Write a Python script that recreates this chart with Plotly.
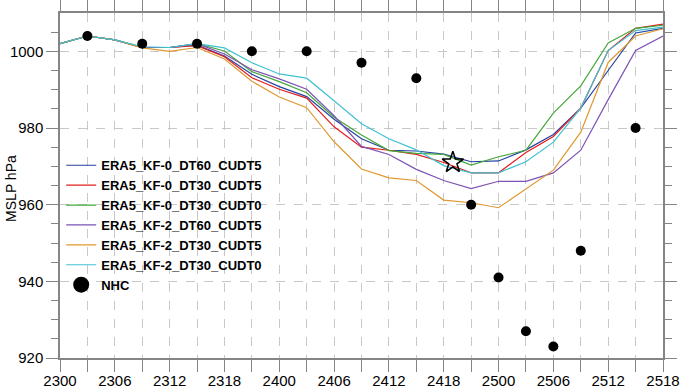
import plotly.graph_objects as go

hours = list(range(0, 67, 3))
tick_labels = ['2300', '2306', '2312', '2318', '2400', '2406', '2412', '2418',
               '2500', '2506', '2512', '2518']

kf0_dt60_cudt5 = [1002, 1004, 1003, 1001, 1001, 1001.6, 998.8, 994, 990.8, 988.2, 982.3, 977.2,
                  974.2, 974, 973.2, 971.2, 971.4, 974.3, 978.3, 985.2, 995, 1004.8, 1006]
kf0_dt30_cudt5 = [1002, 1004, 1003, 1001, 1001, 1001.5, 998.6, 993.1, 990.1, 987.8, 980.3, 975,
                  974.2, 973.1, 971, 968.3, 968.3, 973.6, 977.8, 985.2, 1000.2, 1006, 1007.1]
kf0_dt30_cudt0 = [1002, 1004, 1003, 1001, 1001, 1002, 1000.1, 994.7, 992.1, 989.2, 982.8, 978.2,
                  974.1, 973.4, 973.1, 970.3, 972.5, 974.2, 983.9, 991, 1002.2, 1006, 1006.8]
kf2_dt60_cudt5 = [1002, 1004, 1003, 1001, 1001, 1002, 999.3, 995.2, 992.8, 990.1, 983.2, 975.2,
                  973.1, 969.2, 966.3, 964.2, 966.1, 966.1, 968.3, 974.2, 987.4, 1000.2, 1004]
kf2_dt30_cudt5 = [1002, 1004, 1003, 1000.9, 1000, 1001, 998, 992.2, 988.1, 985.3, 976.4, 969.3,
                  967, 966.3, 961.2, 960.5, 959.2, 964, 969, 978.9, 997.1, 1004, 1005.9]
kf2_dt30_cudt0 = [1002, 1004, 1003, 1001.2, 1001, 1002, 1000.9, 997, 994.1, 993, 987.1, 981.1,
                  977.2, 974.3, 970.2, 968.3, 968.3, 971.2, 976.3, 985.2, 1000.2, 1005.4, 1006.3]

nhc_hours = [3, 9, 15, 21, 27, 33, 39, 45, 48, 51, 54, 57, 63]
nhc_mslp = [1004, 1002, 1002, 1000, 1000, 997, 993, 960, 941, 927, 923, 948, 980]

star_hour = [43]
star_mslp = [971]

series = [
    ('ERA5_KF-0_DT60_CUDT5', kf0_dt60_cudt5, '#2443a3'),
    ('ERA5_KF-0_DT30_CUDT5', kf0_dt30_cudt5, '#e41e1e'),
    ('ERA5_KF-0_DT30_CUDT0', kf0_dt30_cudt0, '#45a83a'),
    ('ERA5_KF-2_DT60_CUDT5', kf2_dt60_cudt5, '#7d52b4'),
    ('ERA5_KF-2_DT30_CUDT5', kf2_dt30_cudt5, '#e0982e'),
    ('ERA5_KF-2_DT30_CUDT0', kf2_dt30_cudt0, '#3ec2d2'),
]

fig = go.Figure()
for name, vals, col in series:
    fig.add_trace(go.Scatter(x=hours, y=vals, mode='lines', name=name,
                             line=dict(color=col, width=1.2)))

fig.add_trace(go.Scatter(x=nhc_hours, y=nhc_mslp, mode='markers', name='NHC',
                         showlegend=False, legendgroup='nhc',
                         marker=dict(color='black', size=10)))
fig.add_trace(go.Scatter(x=[None], y=[None], mode='markers', name='NHC',
                         legendgroup='nhc',
                         marker=dict(color='black', size=16)))
fig.add_trace(go.Scatter(x=star_hour, y=star_mslp, mode='markers', showlegend=False,
                         marker=dict(symbol='star-open', size=16, color='black',
                                     line=dict(width=1.5, color='black'))))

tickvals = hours
ticktext = [tick_labels[i // 2] if i % 2 == 0 else '' for i in range(len(hours))]

axis_col = '#858585'
fig.update_layout(
    width=682, height=391,
    margin=dict(l=60, r=19, t=13, b=33, autoexpand=False),
    paper_bgcolor='white', plot_bgcolor='white',
    font=dict(family='Liberation Sans, Arial, sans-serif', size=15, color='black'),
    showlegend=True,
    legend=dict(x=0.002, y=0.602, xanchor='left', yanchor='top',
                bgcolor='rgba(0,0,0,0)', borderwidth=0,
                font=dict(family='Liberation Sans, Arial, sans-serif', size=13,
                          color='black', weight='bold'),
                tracegroupgap=0),
    annotations=[dict(text='MSLP hPa', textangle=-90, xref='paper', yref='paper',
                      x=-0.0813, y=0.493, xanchor='center', yanchor='middle',
                      showarrow=False, font=dict(size=14, color='black'))],
)
fig.update_xaxes(range=[0, 66], tickmode='array', tickvals=tickvals, ticktext=ticktext,
                 ticks='outside', ticklen=12, tickcolor=axis_col, tickwidth=1,
                 ticklabelstandoff=-4,
                 showline=True, linecolor=axis_col, linewidth=1.5, mirror='ticks',
                 showgrid=True, gridcolor='#c8c8c8', griddash='dash', gridwidth=1,
                 zeroline=False, tickfont=dict(size=15), automargin=False)
fig.update_yaxes(range=[920, 1010], tickmode='array', tickvals=[920, 940, 960, 980, 1000],
                 ticks='outside', ticklen=12, tickcolor=axis_col, tickwidth=1,
                 minor=dict(tickmode='array', tickvals=[925, 930, 935, 945, 950, 955, 965, 970,
                                                        975, 985, 990, 995, 1005],
                            ticks='outside', ticklen=7, tickcolor=axis_col, showgrid=False),
                 showline=True, linecolor=axis_col, linewidth=1.5, mirror='ticks',
                 showgrid=True, gridcolor='#c8c8c8', griddash='dash', gridwidth=1,
                 zeroline=False, tickfont=dict(size=15), automargin=False)

fig.write_html('out.html')
